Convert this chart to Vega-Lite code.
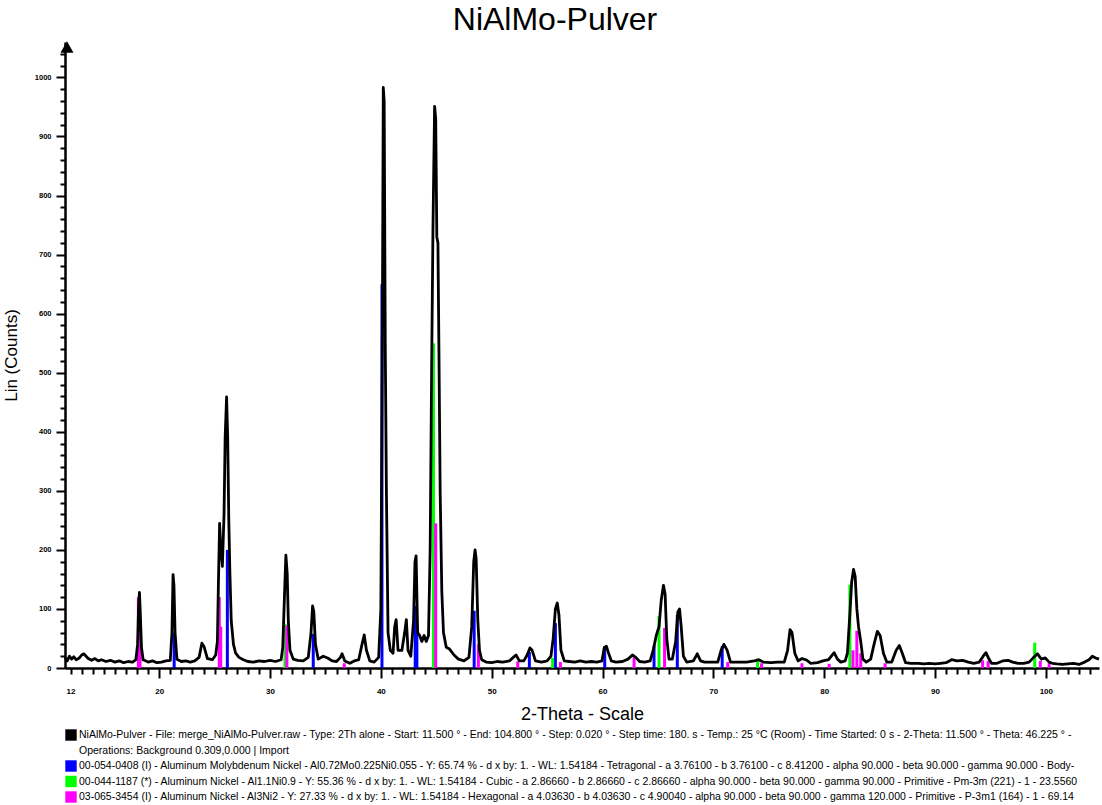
{
  "$schema": "https://vega.github.io/schema/vega-lite/v6.json",
  "autosize": "none",
  "width": 1034,
  "height": 626,
  "padding": {"left": 65, "top": 42, "right": 3, "bottom": 137},
  "background": "white",
  "title": {"text": "NiAlMo-Pulver", "fontSize": 32, "font": "Liberation Sans", "fontWeight": "normal", "color": "black", "offset": 4, "dx": -27},
  "config": {
    "view": {"stroke": null},
    "font": "Liberation Sans",
    "axis": {"domainColor": "black", "domainWidth": 2.5, "tickColor": "#000000", "tickWidth": 2, "tickOpacity": 1, "ticks": true, "grid": false, "labelColor": "black", "titleColor": "black", "labelFont": "Liberation Sans", "titleFont": "Liberation Sans", "labelFontWeight": "bold", "titleFontWeight": "normal", "labelOverlap": false, "labelFlush": false, "format": "d"}
  },
  "datasets": {
    "scan": [
      {"t": 11.5, "c": 18}, {"t": 11.7, "c": 12}, {"t": 11.9, "c": 20}, {"t": 12.1, "c": 15}, {"t": 12.3, "c": 19}, {"t": 12.5, "c": 14}, {"t": 12.8, "c": 17}, {"t": 13.0, "c": 22}, {"t": 13.2, "c": 24}, {"t": 13.4, "c": 20}, {"t": 13.6, "c": 16}, {"t": 13.9, "c": 13}, {"t": 14.2, "c": 16}, {"t": 14.5, "c": 12}, {"t": 14.8, "c": 14}, {"t": 15.2, "c": 11}, {"t": 15.6, "c": 13}, {"t": 16.0, "c": 10}, {"t": 16.4, "c": 12}, {"t": 16.8, "c": 9}, {"t": 17.2, "c": 11}, {"t": 17.6, "c": 10}, {"t": 17.9, "c": 14},
      {"t": 18.05, "c": 40}, {"t": 18.15, "c": 110}, {"t": 18.22, "c": 128}, {"t": 18.3, "c": 90}, {"t": 18.4, "c": 35}, {"t": 18.55, "c": 14}, {"t": 19.0, "c": 10}, {"t": 19.4, "c": 12}, {"t": 19.8, "c": 9}, {"t": 20.2, "c": 10}, {"t": 20.6, "c": 12}, {"t": 21.0, "c": 13},
      {"t": 21.15, "c": 60}, {"t": 21.25, "c": 158}, {"t": 21.33, "c": 140}, {"t": 21.43, "c": 60}, {"t": 21.6, "c": 15}, {"t": 22.0, "c": 11}, {"t": 22.4, "c": 12}, {"t": 22.8, "c": 10}, {"t": 23.2, "c": 12}, {"t": 23.6, "c": 18}, {"t": 23.85, "c": 42}, {"t": 24.05, "c": 36}, {"t": 24.35, "c": 16}, {"t": 24.8, "c": 14}, {"t": 25.1, "c": 22},
      {"t": 25.25, "c": 45}, {"t": 25.35, "c": 150}, {"t": 25.45, "c": 245}, {"t": 25.55, "c": 205}, {"t": 25.7, "c": 172}, {"t": 25.85, "c": 260}, {"t": 25.95, "c": 390}, {"t": 26.08, "c": 459}, {"t": 26.18, "c": 390}, {"t": 26.28, "c": 250}, {"t": 26.38, "c": 160}, {"t": 26.5, "c": 80}, {"t": 26.7, "c": 40}, {"t": 26.9, "c": 25}, {"t": 27.2, "c": 18}, {"t": 27.6, "c": 14}, {"t": 28.0, "c": 11}, {"t": 28.5, "c": 10}, {"t": 29.0, "c": 12}, {"t": 29.5, "c": 11}, {"t": 30.0, "c": 13}, {"t": 30.5, "c": 11}, {"t": 31.0, "c": 14},
      {"t": 31.15, "c": 35}, {"t": 31.3, "c": 120}, {"t": 31.43, "c": 191}, {"t": 31.55, "c": 160}, {"t": 31.65, "c": 80}, {"t": 31.8, "c": 30}, {"t": 32.1, "c": 15}, {"t": 32.5, "c": 13}, {"t": 33.0, "c": 12}, {"t": 33.45, "c": 18}, {"t": 33.7, "c": 60}, {"t": 33.84, "c": 105}, {"t": 33.95, "c": 95}, {"t": 34.1, "c": 40}, {"t": 34.35, "c": 15}, {"t": 34.8, "c": 20}, {"t": 35.2, "c": 17}, {"t": 35.6, "c": 12}, {"t": 36.0, "c": 11}, {"t": 36.35, "c": 18}, {"t": 36.5, "c": 24}, {"t": 36.75, "c": 12}, {"t": 37.2, "c": 8}, {"t": 37.6, "c": 12}, {"t": 38.0, "c": 14}, {"t": 38.3, "c": 40}, {"t": 38.5, "c": 56}, {"t": 38.7, "c": 30}, {"t": 39.0, "c": 12}, {"t": 39.4, "c": 10}, {"t": 39.8, "c": 18},
      {"t": 40.0, "c": 100}, {"t": 40.12, "c": 500}, {"t": 40.22, "c": 983}, {"t": 40.3, "c": 960}, {"t": 40.4, "c": 540}, {"t": 40.5, "c": 300}, {"t": 40.65, "c": 60}, {"t": 40.85, "c": 30}, {"t": 41.1, "c": 25}, {"t": 41.25, "c": 70}, {"t": 41.38, "c": 82}, {"t": 41.55, "c": 30}, {"t": 41.9, "c": 30}, {"t": 42.15, "c": 60}, {"t": 42.3, "c": 82}, {"t": 42.45, "c": 30}, {"t": 42.7, "c": 20}, {"t": 42.95, "c": 80}, {"t": 43.08, "c": 180}, {"t": 43.18, "c": 190}, {"t": 43.32, "c": 60}, {"t": 43.5, "c": 55}, {"t": 43.7, "c": 45}, {"t": 43.9, "c": 55}, {"t": 44.1, "c": 45}, {"t": 44.3, "c": 55},
      {"t": 44.45, "c": 200}, {"t": 44.58, "c": 500}, {"t": 44.7, "c": 740}, {"t": 44.85, "c": 951}, {"t": 44.95, "c": 930}, {"t": 45.05, "c": 730}, {"t": 45.15, "c": 720}, {"t": 45.25, "c": 520}, {"t": 45.35, "c": 300}, {"t": 45.5, "c": 130}, {"t": 45.65, "c": 60}, {"t": 45.9, "c": 35}, {"t": 46.2, "c": 32}, {"t": 46.6, "c": 22}, {"t": 47.0, "c": 15}, {"t": 47.5, "c": 12}, {"t": 47.95, "c": 18},
      {"t": 48.2, "c": 70}, {"t": 48.38, "c": 180}, {"t": 48.5, "c": 200}, {"t": 48.6, "c": 185}, {"t": 48.75, "c": 80}, {"t": 48.9, "c": 30}, {"t": 49.1, "c": 14}, {"t": 49.5, "c": 10}, {"t": 50.0, "c": 9}, {"t": 50.5, "c": 11}, {"t": 51.0, "c": 10}, {"t": 51.6, "c": 12}, {"t": 51.95, "c": 18}, {"t": 52.2, "c": 22}, {"t": 52.5, "c": 12}, {"t": 52.9, "c": 12}, {"t": 53.2, "c": 22}, {"t": 53.45, "c": 34}, {"t": 53.65, "c": 30}, {"t": 53.95, "c": 12}, {"t": 54.5, "c": 10}, {"t": 55.0, "c": 12},
      {"t": 55.35, "c": 20}, {"t": 55.55, "c": 50}, {"t": 55.75, "c": 100}, {"t": 55.92, "c": 110}, {"t": 56.07, "c": 90}, {"t": 56.25, "c": 30}, {"t": 56.55, "c": 12}, {"t": 57.0, "c": 11}, {"t": 57.5, "c": 10}, {"t": 58.0, "c": 12}, {"t": 58.5, "c": 10}, {"t": 59.0, "c": 11}, {"t": 59.5, "c": 10}, {"t": 59.95, "c": 12}, {"t": 60.15, "c": 34}, {"t": 60.35, "c": 37}, {"t": 60.55, "c": 25}, {"t": 60.8, "c": 12}, {"t": 61.2, "c": 10}, {"t": 61.8, "c": 11}, {"t": 62.3, "c": 15}, {"t": 62.7, "c": 22}, {"t": 63.0, "c": 18}, {"t": 63.35, "c": 11}, {"t": 63.8, "c": 10}, {"t": 64.3, "c": 12},
      {"t": 64.6, "c": 32}, {"t": 64.85, "c": 55}, {"t": 65.1, "c": 70}, {"t": 65.3, "c": 115}, {"t": 65.5, "c": 140}, {"t": 65.65, "c": 125}, {"t": 65.8, "c": 50}, {"t": 66.0, "c": 15}, {"t": 66.3, "c": 15}, {"t": 66.6, "c": 45}, {"t": 66.8, "c": 95}, {"t": 66.95, "c": 100}, {"t": 67.1, "c": 70}, {"t": 67.3, "c": 20}, {"t": 67.6, "c": 10}, {"t": 68.2, "c": 12}, {"t": 68.55, "c": 24}, {"t": 68.85, "c": 12}, {"t": 69.2, "c": 10}, {"t": 69.8, "c": 10}, {"t": 70.4, "c": 10}, {"t": 70.7, "c": 30}, {"t": 70.95, "c": 40}, {"t": 71.25, "c": 30}, {"t": 71.55, "c": 10}, {"t": 72.2, "c": 10}, {"t": 73.0, "c": 10}, {"t": 73.7, "c": 12}, {"t": 74.1, "c": 14}, {"t": 74.5, "c": 10}, {"t": 75.2, "c": 9}, {"t": 75.8, "c": 10}, {"t": 76.4, "c": 10},
      {"t": 76.7, "c": 30}, {"t": 76.92, "c": 65}, {"t": 77.1, "c": 60}, {"t": 77.35, "c": 25}, {"t": 77.65, "c": 12}, {"t": 78.0, "c": 16}, {"t": 78.35, "c": 14}, {"t": 78.8, "c": 8}, {"t": 79.4, "c": 9}, {"t": 79.9, "c": 12}, {"t": 80.4, "c": 14}, {"t": 80.9, "c": 26}, {"t": 81.2, "c": 15}, {"t": 81.5, "c": 10}, {"t": 81.9, "c": 12},
      {"t": 82.1, "c": 25}, {"t": 82.3, "c": 85}, {"t": 82.48, "c": 145}, {"t": 82.65, "c": 167}, {"t": 82.8, "c": 155}, {"t": 82.95, "c": 100}, {"t": 83.1, "c": 70}, {"t": 83.3, "c": 45}, {"t": 83.5, "c": 15}, {"t": 83.8, "c": 10}, {"t": 84.2, "c": 15}, {"t": 84.5, "c": 40}, {"t": 84.8, "c": 62}, {"t": 85.05, "c": 55}, {"t": 85.35, "c": 25}, {"t": 85.65, "c": 10}, {"t": 86.1, "c": 10}, {"t": 86.5, "c": 30}, {"t": 86.78, "c": 38}, {"t": 87.05, "c": 25}, {"t": 87.35, "c": 9}, {"t": 87.8, "c": 8}, {"t": 88.5, "c": 8}, {"t": 89.0, "c": 7}, {"t": 89.5, "c": 8}, {"t": 90.0, "c": 7}, {"t": 90.5, "c": 8}, {"t": 91.0, "c": 9},
      {"t": 91.5, "c": 14}, {"t": 92.0, "c": 12}, {"t": 92.5, "c": 13}, {"t": 93.0, "c": 10}, {"t": 93.5, "c": 8}, {"t": 94.0, "c": 10}, {"t": 94.35, "c": 20}, {"t": 94.6, "c": 26}, {"t": 94.85, "c": 16}, {"t": 95.1, "c": 8}, {"t": 95.6, "c": 8}, {"t": 96.1, "c": 12}, {"t": 96.6, "c": 13}, {"t": 97.0, "c": 10}, {"t": 97.5, "c": 8}, {"t": 98.0, "c": 8}, {"t": 98.5, "c": 10}, {"t": 98.9, "c": 18}, {"t": 99.25, "c": 24}, {"t": 99.6, "c": 15}, {"t": 99.95, "c": 17}, {"t": 100.3, "c": 10}, {"t": 100.6, "c": 8}, {"t": 101.0, "c": 7}, {"t": 101.5, "c": 6}, {"t": 102.0, "c": 7}, {"t": 102.5, "c": 8}, {"t": 103.0, "c": 6}, {"t": 103.5, "c": 10}, {"t": 103.9, "c": 14}, {"t": 104.2, "c": 20}, {"t": 104.5, "c": 17}, {"t": 104.8, "c": 15}
    ],
    "sticks": [
      {"t": 21.35, "i": 60, "p": "00-054-0408"}, {"t": 26.15, "i": 200, "p": "00-054-0408"}, {"t": 33.9, "i": 58, "p": "00-054-0408"}, {"t": 40.1, "i": 650, "p": "00-054-0408"}, {"t": 43.1, "i": 105, "p": "00-054-0408"}, {"t": 43.25, "i": 65, "p": "00-054-0408"}, {"t": 48.42, "i": 97, "p": "00-054-0408"}, {"t": 53.4, "i": 27, "p": "00-054-0408"}, {"t": 55.75, "i": 76, "p": "00-054-0408"}, {"t": 60.2, "i": 37, "p": "00-054-0408"}, {"t": 64.65, "i": 37, "p": "00-054-0408"}, {"t": 66.75, "i": 90, "p": "00-054-0408"}, {"t": 70.8, "i": 37, "p": "00-054-0408"},
      {"t": 31.35, "i": 75, "p": "00-044-1187"}, {"t": 44.75, "i": 550, "p": "00-044-1187"}, {"t": 55.5, "i": 17, "p": "00-044-1187"}, {"t": 65.1, "i": 88, "p": "00-044-1187"}, {"t": 74.0, "i": 16, "p": "00-044-1187"}, {"t": 82.32, "i": 141, "p": "00-044-1187"}, {"t": 99.0, "i": 43, "p": "00-044-1187"},
      {"t": 18.12, "i": 120, "p": "03-065-3454"}, {"t": 18.27, "i": 50, "p": "03-065-3454"}, {"t": 25.42, "i": 120, "p": "03-065-3454"}, {"t": 25.55, "i": 70, "p": "03-065-3454"}, {"t": 31.52, "i": 72, "p": "03-065-3454"}, {"t": 36.7, "i": 8, "p": "03-065-3454"}, {"t": 44.95, "i": 245, "p": "03-065-3454"}, {"t": 48.8, "i": 40, "p": "03-065-3454"}, {"t": 52.35, "i": 11, "p": "03-065-3454"}, {"t": 56.2, "i": 10, "p": "03-065-3454"}, {"t": 62.85, "i": 18, "p": "03-065-3454"}, {"t": 65.6, "i": 68, "p": "03-065-3454"}, {"t": 71.3, "i": 10, "p": "03-065-3454"}, {"t": 74.35, "i": 8, "p": "03-065-3454"}, {"t": 78.0, "i": 8, "p": "03-065-3454"}, {"t": 80.45, "i": 7, "p": "03-065-3454"}, {"t": 82.6, "i": 30, "p": "03-065-3454"}, {"t": 82.95, "i": 63, "p": "03-065-3454"}, {"t": 83.3, "i": 25, "p": "03-065-3454"}, {"t": 85.5, "i": 8, "p": "03-065-3454"}, {"t": 94.3, "i": 13, "p": "03-065-3454"}, {"t": 94.8, "i": 12, "p": "03-065-3454"}, {"t": 99.5, "i": 12, "p": "03-065-3454"}, {"t": 100.3, "i": 8, "p": "03-065-3454"}
    ]
  },
  "resolve": {"axis": {"x": "independent", "y": "independent"}},
  "layer": [
    {
      "data": {"name": "sticks"},
      "mark": {"type": "bar", "size": 3},
      "encoding": {
        "x": {
          "field": "t", "type": "quantitative",
          "scale": {"domain": [11.5, 104.8], "nice": false, "zero": false, "padding": 0},
          "axis": {
            "orient": "bottom", "title": null, "domain": false, "ticks": true,
            "values": [12,13,14,15,16,17,18,19,21,22,23,24,25,26,27,28,29,31,32,33,34,35,36,37,38,39,41,42,43,44,45,46,47,48,49,51,52,53,54,55,56,57,58,59,61,62,63,64,65,66,67,68,69,71,72,73,74,75,76,77,78,79,81,82,83,84,85,86,87,88,89,91,92,93,94,95,96,97,98,99,101,102,103,104],
            "labelExpr": "datum.value === 12 ? datum.label : ''",
            "tickSize": 6, "labelFontSize": 8, "labelPadding": 13
          }
        },
        "y": {
          "field": "i", "type": "quantitative",
          "scale": {"domain": [0, 1060], "nice": false},
          "axis": {
            "orient": "left", "title": null, "domain": false, "labels": false, "ticks": true,
            "values": [20,40,60,80,120,140,160,180,220,240,260,280,320,340,360,380,420,440,460,480,520,540,560,580,620,640,660,680,720,740,760,780,820,840,860,880,920,940,960,980,1020,1040],
            "tickSize": 5
          }
        },
        "color": {
          "field": "p", "type": "nominal",
          "scale": {"domain": ["NiAlMo-Pulver", "Operations", "00-054-0408", "00-044-1187", "03-065-3454"], "range": ["#000000", "#ffffff", "#0000ff", "#00ff00", "#ff00ff"]},
          "legend": {
            "title": null, "orient": "bottom", "direction": "vertical", "columns": 1, "offset": 6,
            "symbolType": "square", "symbolSize": 130, "symbolStrokeWidth": 0, "symbolOpacity": 1,
            "labelFontSize": 10.5, "labelFont": "Liberation Sans", "labelColor": "black", "labelLimit": 1100, "rowPadding": 3.5, "labelOffset": 2,
            "labelExpr": "datum.value === 'NiAlMo-Pulver' ? 'NiAlMo-Pulver - File: merge_NiAlMo-Pulver.raw - Type: 2Th alone - Start: 11.500 ° - End: 104.800 ° - Step: 0.020 ° - Step time: 180. s - Temp.: 25 °C (Room) - Time Started: 0 s - 2-Theta: 11.500 ° - Theta: 46.225 ° -' : datum.value === 'Operations' ? 'Operations: Background 0.309,0.000 | Import' : datum.value === '00-054-0408' ? '00-054-0408 (I) - Aluminum Molybdenum Nickel - Al0.72Mo0.225Ni0.055 - Y: 65.74 % - d x by: 1. - WL: 1.54184 - Tetragonal - a 3.76100 - b 3.76100 - c 8.41200 - alpha 90.000 - beta 90.000 - gamma 90.000 - Body-' : datum.value === '00-044-1187' ? '00-044-1187 (*) - Aluminum Nickel - Al1.1Ni0.9 - Y: 55.36 % - d x by: 1. - WL: 1.54184 - Cubic - a 2.86660 - b 2.86660 - c 2.86660 - alpha 90.000 - beta 90.000 - gamma 90.000 - Primitive - Pm-3m (221) - 1 - 23.5560' : '03-065-3454 (I) - Aluminum Nickel - Al3Ni2 - Y: 27.33 % - d x by: 1. - WL: 1.54184 - Hexagonal - a 4.03630 - b 4.03630 - c 4.90040 - alpha 90.000 - beta 90.000 - gamma 120.000 - Primitive - P-3m1 (164) - 1 - 69.14'"
          }
        }
      }
    },
    {
      "data": {"name": "scan"},
      "mark": {"type": "line", "color": "black", "strokeWidth": 2.8, "strokeJoin": "round"},
      "encoding": {
        "x": {
          "field": "t", "type": "quantitative",
          "scale": {"domain": [11.5, 104.8], "nice": false, "zero": false, "padding": 0},
          "axis": {
            "orient": "bottom", "title": "2-Theta - Scale", "titleFontSize": 18, "titlePadding": 10, "ticks": true,
            "values": [20,30,40,50,60,70,80,90,100],
            "tickSize": 10, "labelFontSize": 8, "labelPadding": 9
          }
        },
        "y": {
          "field": "c", "type": "quantitative",
          "scale": {"domain": [0, 1060], "nice": false},
          "axis": {
            "orient": "left", "title": "Lin (Counts)", "titleFontSize": 17, "titlePadding": 14, "ticks": true,
            "values": [0,100,200,300,400,500,600,700,800,900,1000],
            "tickSize": 9, "labelFontSize": 7.5, "labelPadding": 5
          }
        }
      }
    },
    {
      "data": {"values": [{}]},
      "mark": {"type": "point", "shape": "triangle-up", "filled": true, "color": "black", "opacity": 1, "size": 170, "yOffset": 5, "xOffset": 2, "clip": false},
      "encoding": {
        "x": {"datum": 11.5, "type": "quantitative", "axis": null},
        "y": {"datum": 1060, "type": "quantitative", "axis": null}
      }
    }
  ]
}
